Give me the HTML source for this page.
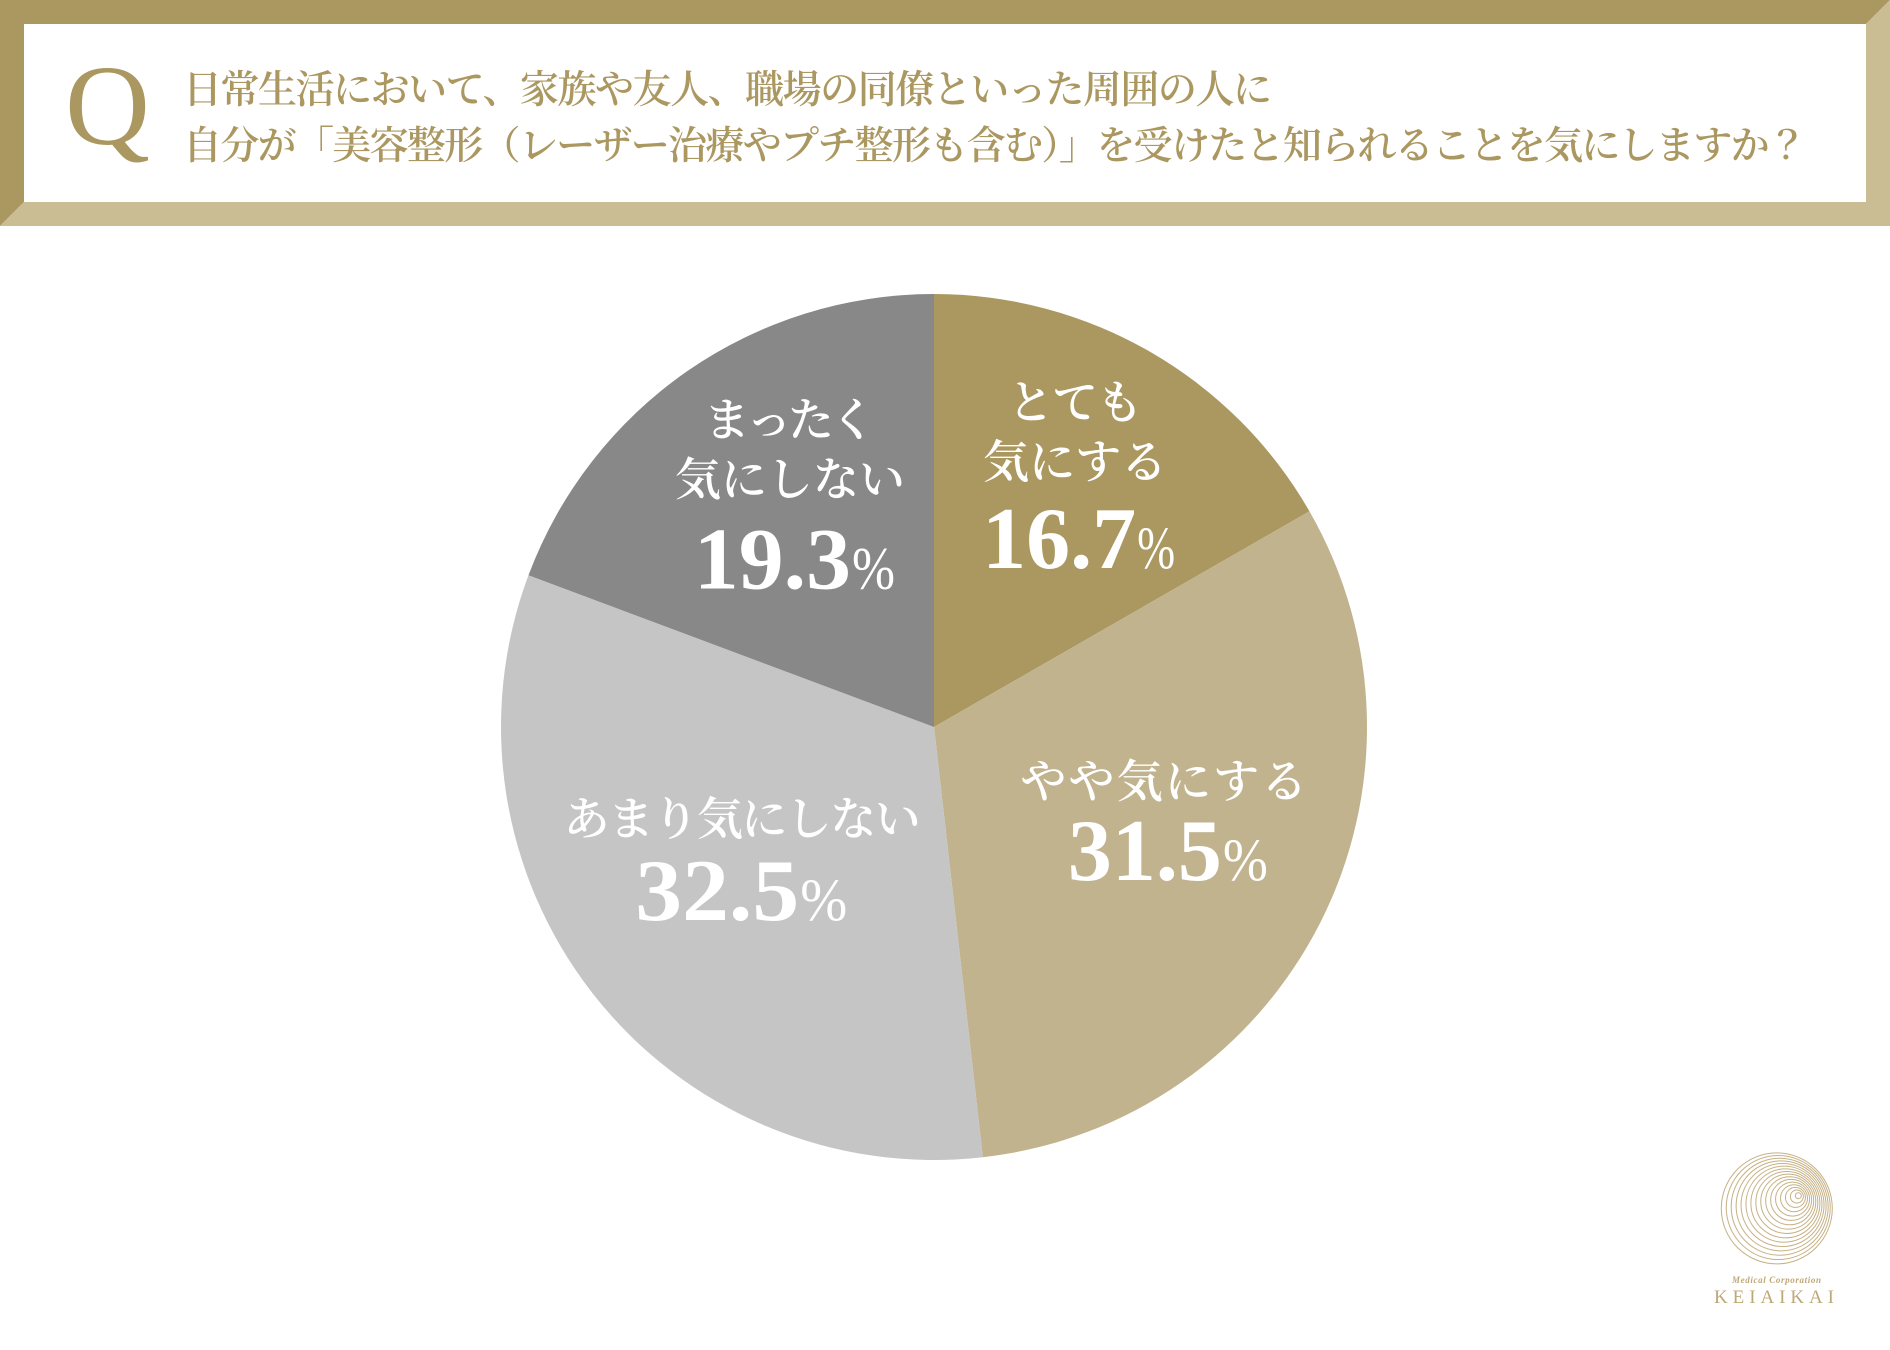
<!DOCTYPE html>
<html lang="ja">
<head>
<meta charset="utf-8">
<title>美容整形 アンケート結果</title>
<style>
html,body{margin:0;padding:0;background:#fff;}
body{width:1890px;height:1350px;overflow:hidden;position:relative;}
svg{display:block;}
text{font-family:"Liberation Serif","Noto Serif CJK SC",serif;}
</style>
</head>
<body>
<svg id="chart" width="1890" height="1350" viewBox="0 0 1890 1350" xmlns="http://www.w3.org/2000/svg">
  <rect x="0" y="0" width="1890" height="1350" fill="#ffffff"/>
  <g>
    <polygon points="0,0 1890,0 1866,24 24,24 24,202 0,226" fill="#ab9760"/>
    <polygon points="1890,0 1890,226 0,226 24,202 1866,202 1866,24" fill="#cabd93"/>
    <text x="65" y="144" font-size="114" fill="#ab9760" textLength="85" lengthAdjust="spacingAndGlyphs">Q</text>
    <text x="183" y="103" font-size="39" font-weight="600" fill="#ab9760" textLength="1089" lengthAdjust="spacing">日常生活において、家族や友人、職場の同僚といった周囲の人に</text>
    <text x="183" y="159" font-size="39" font-weight="600" fill="#ab9760" textLength="1624" lengthAdjust="spacing">自分が「美容整形（レーザー治療やプチ整形も含む）」を受けたと知られることを気にしますか？</text>
  </g>
  <g id="pie"></g>
  <g id="logo">
    <g id="logo-rings" fill="none" stroke="#c6b184" stroke-width="1"></g>
    <text x="1776.5" y="1283" font-size="9" font-weight="bold" font-style="italic" fill="#bfa877" text-anchor="middle" textLength="89" lengthAdjust="spacing">Medical Corporation</text>
    <text x="1714" y="1303" font-size="19" fill="#bfa877" textLength="120" lengthAdjust="spacing">KEIAIKAI</text>
  </g>
</svg>
<script>
const categories = ['とても気にする', 'やや気にする', 'あまり気にしない', 'まったく気にしない'];
const labelLines = [['とても', '気にする'], ['やや気にする'], ['あまり気にしない'], ['まったく', '気にしない']];
const values = [16.7, 31.5, 32.5, 19.3];
const sliceNames = ['slice-very-concerned', 'slice-somewhat-concerned', 'slice-not-very-concerned', 'slice-not-concerned'];
const sliceColors = ['#ab9760', '#c1b38e', '#c5c5c5', '#888888'];

const SVG_NS = 'http://www.w3.org/2000/svg';
const CX = 934, CY = 727, R = 433;

function make(tag, parent) {
  const el = document.createElementNS(SVG_NS, tag);
  parent.appendChild(el);
  return el;
}
function angleScale(v, total) {
  return (v / total) * Math.PI * 2;
}
function polar(angle, radius) {
  return [CX + radius * Math.sin(angle), CY - radius * Math.cos(angle)];
}
function labelTweak(i) {
  /* hand placement relative to the computed slice-centre anchor */
  switch (i) {
    case 0: return {dx: 11, dy: -27, numDx: 6, drop: 93, gap: 90, lineLens: [135, 184], numLen: 154, pctLen: 38};
    case 1: return {dx: -2, dy: -24, numDx: 3, drop: 60, gap: 82.5, lineLens: [287], numLen: 154, pctLen: 45};
    case 2: return {dx: 13, dy: -28, numDx: 2, drop: 61, gap: 85, lineLens: [357], numLen: 164, pctLen: 47};
    default: return {dx: 4, dy: -21, numDx: 6, drop: 96, gap: 93, lineLens: [172, 230], numLen: 157, pctLen: 43};
  }
}

function drawPie() {
  const root = document.getElementById('pie');
  const total = values.reduce(function (a, b) { return a + b; }, 0);
  let start = 0;
  values.forEach(function (v, i) {
    const sweep = angleScale(v, total);
    const end = start + sweep;
    const p0 = polar(start, R);
    const p1 = polar(end, R);
    const large = sweep > Math.PI ? 1 : 0;
    const path = make('path', root);
    path.setAttribute('d', 'M' + CX + ' ' + CY + ' L' + p0[0] + ' ' + p0[1] + ' A' + R + ' ' + R + ' 0 ' + large + ' 1 ' + p1[0] + ' ' + p1[1] + ' Z');
    path.setAttribute('fill', sliceColors[i]);
    
    
    const title = make('title', path);
    title.textContent = categories[i] + ' ' + v + '%';
    start = end;
  });

  start = 0;
  values.forEach(function (v, i) {
    const sweep = angleScale(v, total);
    const mid = start + sweep / 2;
    start += sweep;
    const t = labelTweak(i);
    const anchor = polar(mid, R * 0.6);
    const ax = anchor[0] + t.dx;
    const ay = anchor[1] + t.dy;
    const numberBase = ay + t.drop;
    const lines = labelLines[i];
    const group = make('g', root);
    
    
    lines.forEach(function (line, j) {
      const txt = make('text', group);
      txt.setAttribute('x', ax);
      txt.setAttribute('y', numberBase - t.gap - (lines.length - 1 - j) * 59.5);
      txt.setAttribute('font-size', '46');
      txt.setAttribute('font-weight', '600');
      txt.setAttribute('fill', '#ffffff');
      txt.setAttribute('text-anchor', 'middle');
      txt.setAttribute('textLength', t.lineLens[j]);
      txt.setAttribute('lengthAdjust', 'spacing');
      txt.textContent = line;
      
      
    });
    const split = ax + t.numDx + 55;
    const num = make('text', group);
    num.setAttribute('x', split);
    num.setAttribute('y', numberBase);
    num.setAttribute('font-size', '88');
    num.setAttribute('font-weight', 'bold');
    num.setAttribute('fill', '#ffffff');
    num.setAttribute('text-anchor', 'end');
    num.setAttribute('textLength', t.numLen);
    num.setAttribute('lengthAdjust', 'spacingAndGlyphs');
    num.textContent = v.toFixed(1);
    
    
    const pct = make('text', group);
    pct.setAttribute('x', split + 1);
    pct.setAttribute('y', numberBase);
    pct.setAttribute('font-size', '60');
    pct.setAttribute('fill', '#ffffff');
    pct.setAttribute('textLength', t.pctLen);
    pct.setAttribute('lengthAdjust', 'spacingAndGlyphs');
    pct.textContent = '%';
    
    
  });
}

function drawLogo() {
  const g = document.getElementById('logo-rings');
  const count = 16;
  for (let i = 0; i < count; i++) {
    const f = i / (count - 1);
    const ring = make('circle', g);
    ring.setAttribute('cx', 1798.3 + (1776.8 - 1798.3) * f);
    ring.setAttribute('cy', 1195.7 + (1208.4 - 1195.7) * f);
    ring.setAttribute('r', 3 + (55.5 - 3) * f);
    
    
  }
}

drawPie();
drawLogo();
</script>
</body>
</html>
